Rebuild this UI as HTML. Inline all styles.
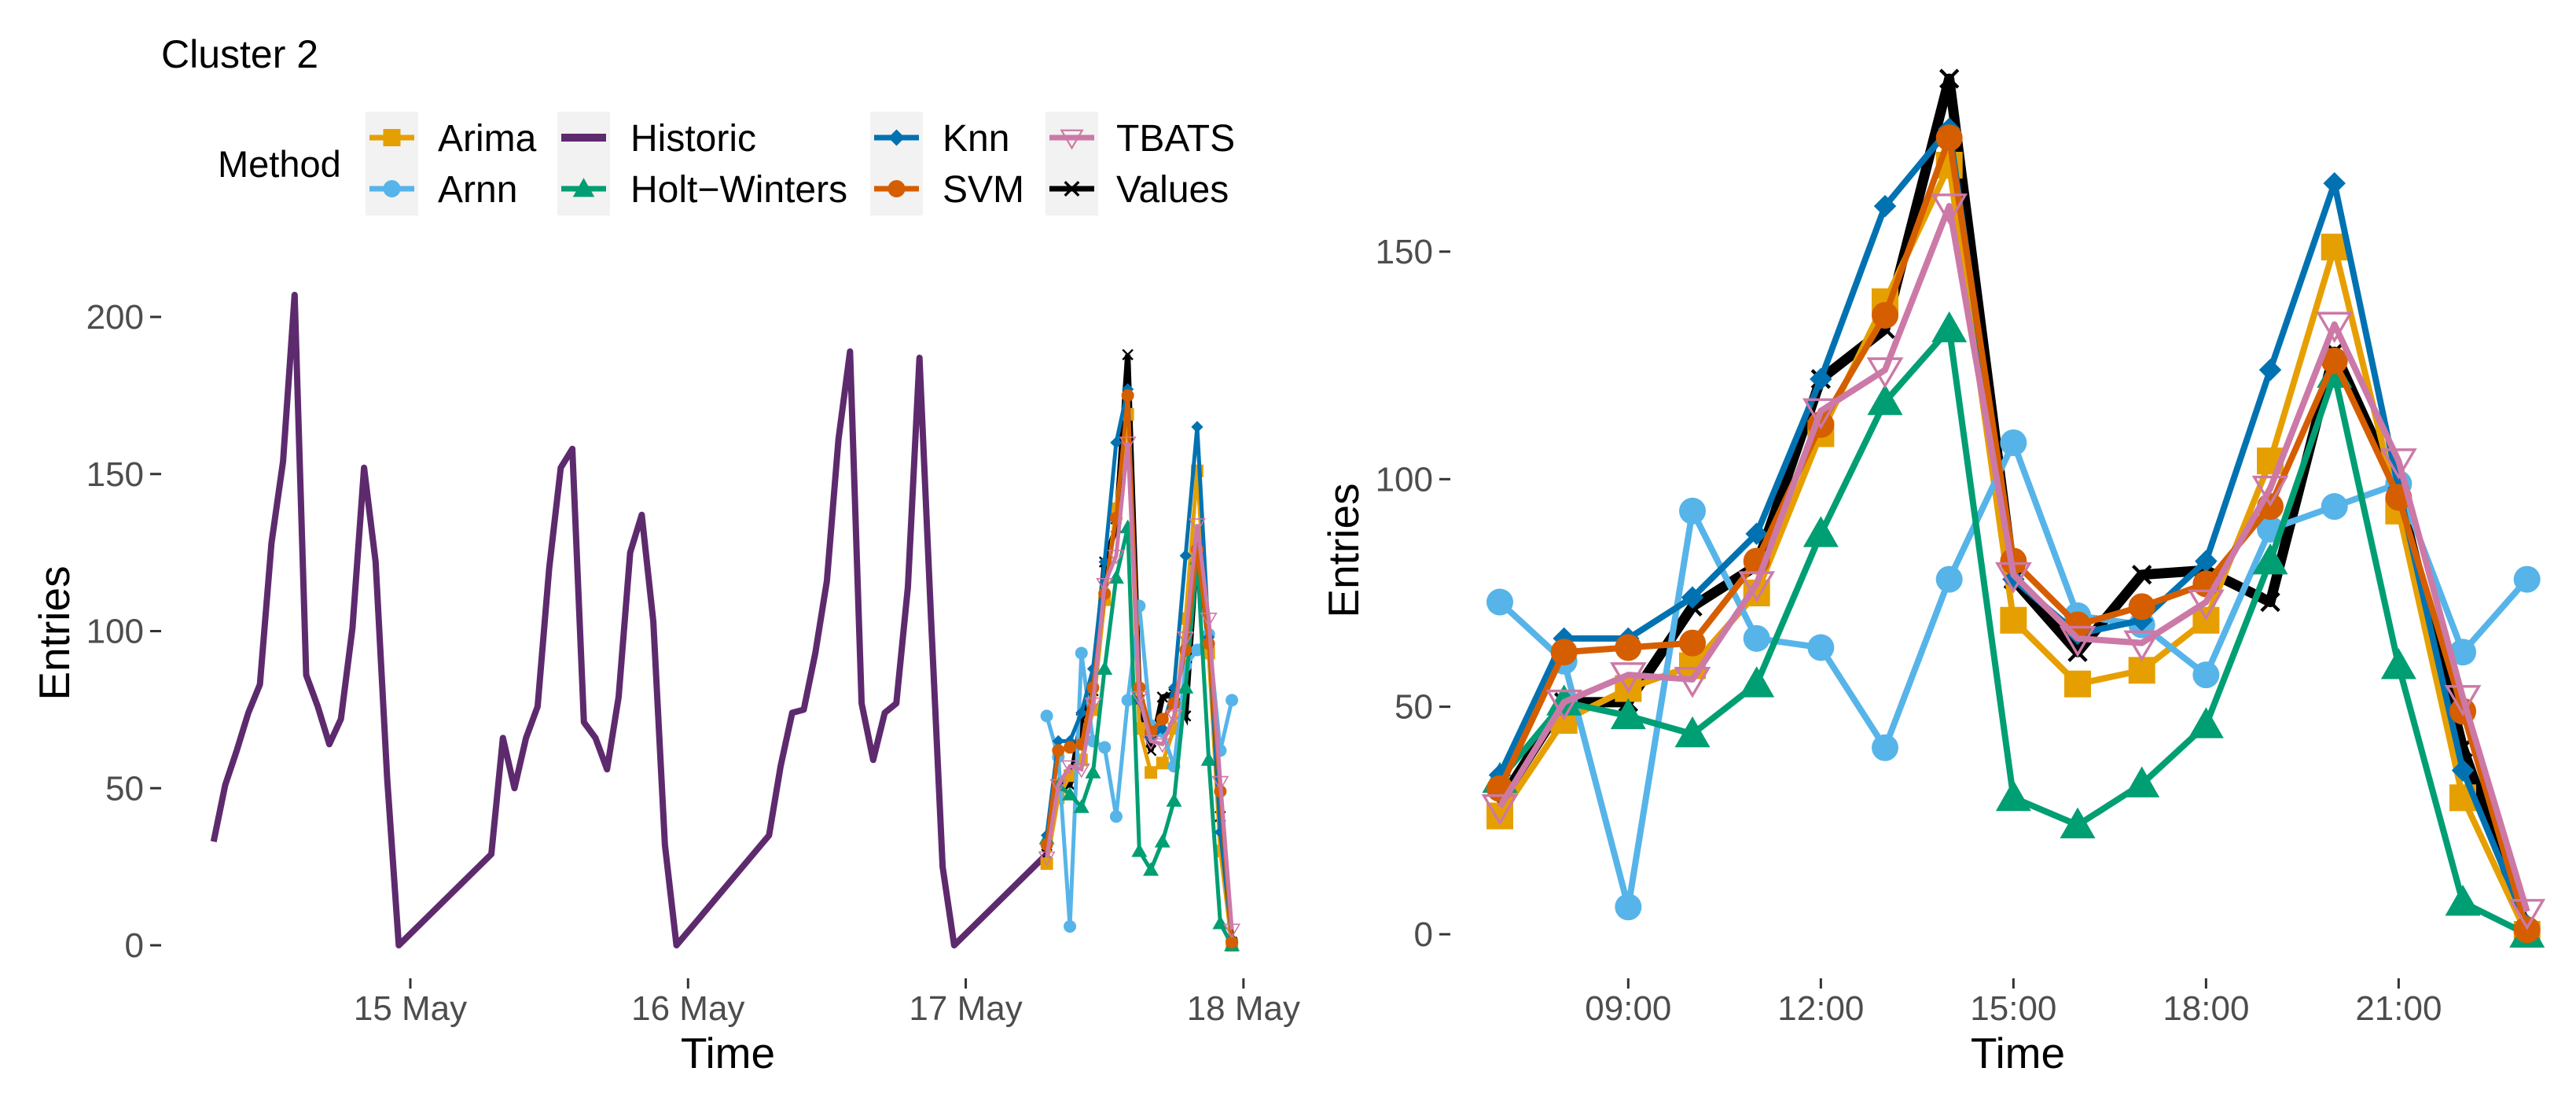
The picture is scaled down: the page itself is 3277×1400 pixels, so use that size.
<!DOCTYPE html>
<html><head><meta charset="utf-8"><style>
body{margin:0;background:#fff}
svg{display:block}
text{font-family:"Liberation Sans",sans-serif}
</style></head><body>
<svg id="chart" width="3277" height="1400" viewBox="0 0 3277 1400" xmlns="http://www.w3.org/2000/svg">
<text x="205" y="86" font-size="50" fill="#000">Cluster 2</text>
<g id="legend"></g>
<g id="left"></g>
<g id="right"></g>
</svg>
<script>
const methods = ["Arima","Arnn","Historic","Holt−Winters","Knn","SVM","TBATS","Values"];
const colors = {"Arima":"#E69F00","Arnn":"#56B4E9","Historic":"#5E2A6E","Holt−Winters":"#009E73","Knn":"#0072B2","SVM":"#D55E00","TBATS":"#CC79A7","Values":"#000000"};
const shapes = {"Arima":"square","Arnn":"circle","Historic":"none","Holt−Winters":"triangle","Knn":"diamond","SVM":"circle","TBATS":"opentri","Values":"cross"};
// Historic: hourly 07..23 for 14,15,16 May, then 17 May 07:00
const histDay14 = [33,51,62,74,83,128,154,207,86,76,64,72,101,152,122,53,0];
const histDay15 = [29,66,50,66,76,120,152,158,71,66,56,79,125,137,103,32,0];
const histDay16 = [35,57,74,75,93,116,161,189,77,59,74,77,114,187,104,25,0];
const histEnd = 29;
// Forecast 17 May, hours 07..23
const forecastHours = [7,8,9,10,11,12,13,14,15,16,17,18,19,20,21,22,23];
const arima = [26,47,54,59,75,110,139,169,69,55,58,69,104,151,93,30,0];
const arnn = [73,60,6,93,65,63,41,78,108,70,68,57,89,94,99,62,78];
const holtWinters = [34,51,48,44,55,88,117,133,30,24,33,46,82,123,59,7,0];
const knn = [35,65,65,74,88,122,160,177,78,66,69,82,124,165,98,36,2];
const svm = [32,62,63,64,82,112,136,175,82,68,72,77,94,126,96,49,1];
const tbats = [28,51,57,56,77,115,124,160,79,65,64,73,98,134,104,52,5];
const values = [29,51,51,72,81,122,133,188,78,62,79,80,73,128,97,41,1];
const leftYTicks = [0,50,100,150,200];
const leftXTicks = ["15 May","16 May","17 May","18 May"];
const rightYTicks = [0,50,100,150];
const rightXTicks = ["09:00","12:00","15:00","18:00","21:00"];
const rightXTickHours = [9,12,15,18,21];

const NS="http://www.w3.org/2000/svg";
function mk(tag,attrs,parent){const e=document.createElementNS(NS,tag);for(const k in attrs)e.setAttribute(k,attrs[k]);parent.appendChild(e);return e;}
const series = {"Values":values,"Arima":arima,"Arnn":arnn,"Holt−Winters":holtWinters,"Knn":knn,"SVM":svm,"TBATS":tbats};

function marker(g,shape,x,y,s,col){
  let e;
  if(shape==="square"){e=mk("rect",{x:x-s,y:y-s,width:2*s,height:2*s,fill:col},g);}
  else if(shape==="circle"){e=mk("circle",{cx:x,cy:y,r:s,fill:col},g);}
  else if(shape==="triangle"){const h=s*1.25;e=mk("polygon",{points:`${x},${y-h} ${x+h},${y+h*0.75} ${x-h},${y+h*0.75}`,fill:col},g);}
  else if(shape==="diamond"){const h=s*0.95;e=mk("polygon",{points:`${x},${y-h} ${x+h},${y} ${x},${y+h} ${x-h},${y}`,fill:col},g);}
  else if(shape==="opentri"){const h=s*1.2;e=mk("polygon",{points:`${x-h},${y-h*0.7} ${x+h},${y-h*0.7} ${x},${y+h}`,fill:"none",stroke:col,"stroke-width":s*0.2},g);}
  else if(shape==="cross"){const h=s*0.8;e=mk("path",{d:`M${x-h},${y-h}L${x+h},${y+h}M${x-h},${y+h}L${x+h},${y-h}`,stroke:col,"stroke-width":s*0.3},g);}
  if(e){
  }
}

function axes(g,xs,ys,yTicks,xTicks,xTickPos,axisLeft,titleX,titleY){
  yTicks.forEach(v=>{const y=ys(v);
    const t=mk("text",{x:axisLeft-22,y:y+15,"font-size":44,fill:"#4d4d4d","text-anchor":"end"},g);t.textContent=v;
    
    
    const l=mk("line",{x1:axisLeft-14,x2:axisLeft,y1:y,y2:y,stroke:"#333","stroke-width":3},g);
    
    
  });
  xTicks.forEach((lab,i)=>{const x=xs(xTickPos[i]);
    const l=mk("line",{x1:x,x2:x,y1:1244,y2:1257,stroke:"#333","stroke-width":3},g);
    
    
    const t=mk("text",{x:x,y:1297,"font-size":44,fill:"#4d4d4d","text-anchor":"middle"},g);t.textContent=lab;
    
    
  });
  const tt=mk("text",{x:titleX,y:1358,"font-size":55,fill:"#000","text-anchor":"middle"},g);tt.textContent="Time";
  
  
  const yt=mk("text",{x:0,y:0,"font-size":55,fill:"#000","text-anchor":"middle",transform:`translate(${axisLeft===205?88:1728},${titleY}) rotate(-90)`},g);yt.textContent="Entries";
  
  
}

// LEFT panel: hours since 15 May 00:00
const L=document.getElementById("left");
const lx=h=>522+h*14.72;
const ly=v=>1202-v*3.995;
axes(L,lx,ly,leftYTicks,leftXTicks,[0,24,48,72],205,926,805);
const hist=[];
[histDay14,histDay15,histDay16].forEach((arr,d)=>arr.forEach((v,i)=>hist.push([(d-1)*24+7+i,v])));
hist.push([48+7,histEnd]);
const hp=mk("polyline",{points:hist.map(p=>lx(p[0])+","+ly(p[1])).join(" "),fill:"none",stroke:colors["Historic"],"stroke-width":8,"stroke-linejoin":"round"},L);


for(const m in series){
  const pts=forecastHours.map((h,i)=>[lx(48+h),ly(series[m][i])]);
  const pl=mk("polyline",{points:pts.map(p=>p.join(",")).join(" "),fill:"none",stroke:colors[m],"stroke-width":m==="Values"?7:5},L);
  
  
  pts.forEach(p=>marker(L,shapes[m],p[0],p[1],8,colors[m]));
}

// RIGHT panel
const R=document.getElementById("right");
const rx=h=>1908+(h-7)*81.67;
const ry=v=>1188-v*5.787;
axes(R,rx,ry,rightYTicks,rightXTicks,rightXTickHours,1845,2567,700);
for(const m in series){
  const pts=forecastHours.map((h,i)=>[rx(h),ry(series[m][i])]);
  const pl=mk("polyline",{points:pts.map(p=>p.join(",")).join(" "),fill:"none",stroke:colors[m],"stroke-width":m==="Values"?13:8,"stroke-linejoin":"round"},R);
  
  
  const s={"square":17,"circle":17,"triangle":18,"diamond":15,"opentri":17,"cross":14}[shapes[m]];
  pts.forEach(p=>marker(R,shapes[m],p[0],p[1],s,colors[m]));
}

// LEGEND
const G=document.getElementById("legend");
const mt=mk("text",{x:277,y:225,"font-size":47,fill:"#000"},G);mt.textContent="Method";


const colBox=[465,709,1107,1330];
const colLab=[557,802,1199,1420];
const rowY=[175,240];
methods.forEach((m,i)=>{
  const c=Math.floor(i/2), r=i%2;
  if(r===0){const b=mk("rect",{x:colBox[c],y:142,width:67,height:132,fill:"#f2f2f2"},G);
    
    }
  const cx=colBox[c]+33.5, cy=rowY[r];
  const ln=mk("line",{x1:colBox[c]+5,x2:colBox[c]+62,y1:cy,y2:cy,stroke:colors[m],"stroke-width":m==="Historic"?10:7},G);
  
  
  marker(G,shapes[m],cx,cy,11,colors[m]);
  const t=mk("text",{x:colLab[c],y:cy+17,"font-size":48,fill:"#000"},G);t.textContent=m;
  
  
});
</script>
</body></html>
